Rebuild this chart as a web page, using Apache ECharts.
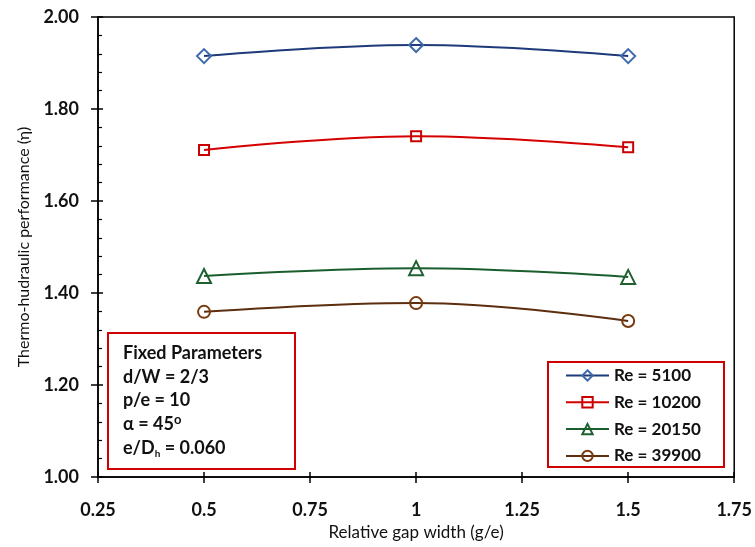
<!DOCTYPE html>
<html>
<head>
<meta charset="utf-8">
<script src="https://cdn.jsdelivr.net/npm/echarts@6/dist/echarts.min.js"></script>
<style>html,body{margin:0;padding:0;background:#fff}#c{width:755px;height:547px}</style>
</head>
<body>
<div id="c"></div>
<script>
var gapWidth = [0.5, 1.0, 1.5];
var re5100 = [1.915, 1.939, 1.915];
var re10200 = [1.711, 1.741, 1.717];
var re20150 = [1.437, 1.454, 1.435];
var re39900 = [1.359, 1.378, 1.339];
var seriesNames = ['Re = 5100', 'Re = 10200', 'Re = 20150', 'Re = 39900'];
var boxLines = ['Fixed Parameters', 'd/W = 2/3', 'p/e = 10', 'α = 45{sup|o}', 'e/D{sub|h} = 0.060'];

var FONT = 'Lato, "Noto Sans", "DejaVu Sans", sans-serif';

function pts(ys) { return gapWidth.map(function (x, i) { return [x, ys[i]]; }); }

function mkSeries(name, ys, sym, size, lineColor, markColor) {
  return {
    name: name, type: 'line', data: pts(ys), smooth: 0.4,
    xAxisIndex: 0, yAxisIndex: 0,
    symbol: sym, symbolSize: size, showSymbol: true,
    lineStyle: { color: lineColor, width: 2 },
    itemStyle: { color: 'rgba(255,255,255,0)', borderColor: markColor, borderWidth: 2 },
    emphasis: { disabled: true }, z: 3
  };
}

var chart = echarts.init(document.getElementById('c'), null, { renderer: 'canvas' });

var boxText = boxLines.map(function (t, i) {
  return {
    type: 'text', x: 123, y: 353 + i * 23.8, z: 6,
    style: {
      text: t, fill: '#111', font: 'bold 18px ' + FONT, verticalAlign: 'middle', lineHeight: 22,
      rich: {
        sup: { fontSize: 13, fontFamily: FONT, fontWeight: 'bold', verticalAlign: 'top', lineHeight: 10, fill: '#111' },
        sub: { fontSize: 10, fontFamily: FONT, fontWeight: 'bold', verticalAlign: 'bottom', lineHeight: 9, fill: '#111' }
      }
    }
  };
});

chart.setOption({
  animation: false,
  backgroundColor: '#fff',
  grid: { left: 98, right: 20, top: 17, bottom: 70, show: true, borderColor: '#000', borderWidth: 1.5, backgroundColor: 'transparent' },
  xAxis: [{
    type: 'value', min: 0.25, max: 1.75, interval: 0.25,
    axisLine: { show: true, onZero: false, lineStyle: { color: '#000', width: 1.5 } },
    axisTick: { show: true, inside: false, length: 6, lineStyle: { color: '#000', width: 1.5 } },
    axisLabel: { margin: 24, color: '#111', fontSize: 18, fontWeight: 'bold', fontFamily: FONT },
    splitLine: { show: false },
    name: 'Relative gap width (g/e)', nameLocation: 'middle', nameGap: 47,
    nameTextStyle: { color: '#111', fontSize: 17, fontFamily: FONT }
  }, {
    type: 'value', min: 0.25, max: 1.75, interval: 0.25, position: 'bottom',
    axisLine: { show: false },
    axisTick: { show: true, inside: true, length: 5, lineStyle: { color: '#000', width: 1.5 } },
    axisLabel: { show: false }, splitLine: { show: false }
  }],
  yAxis: [{
    type: 'value', min: 1, max: 2, interval: 0.2,
    axisLine: { show: true, onZero: false, lineStyle: { color: '#000', width: 1.5 } },
    axisTick: { show: true, inside: false, length: 7, lineStyle: { color: '#000', width: 1.5 } },
    axisLabel: { margin: 19, color: '#111', fontSize: 18, fontWeight: 'bold', fontFamily: FONT,
      formatter: function (v) { return v.toFixed(2); } },
    splitLine: { show: false },
    name: 'Thermo-hudraulic performance (η)', nameLocation: 'middle', nameGap: 66, nameRotate: 90,
    nameTextStyle: { color: '#111', fontSize: 16, fontFamily: FONT }
  }, {
    type: 'value', min: 1, max: 2, interval: 0.2, position: 'left',
    axisLine: { show: false },
    axisTick: { show: true, inside: true, length: 5, lineStyle: { color: '#000', width: 1.5 } },
    minorTick: { show: true, splitNumber: 5, length: 4, lineStyle: { color: '#000', width: 1.2 } },
    axisLabel: { show: false }, splitLine: { show: false }
  }],
  legend: {
    orient: 'vertical', left: 565, top: 367, z: 10, padding: 0,
    itemWidth: 43, itemHeight: 13, itemGap: 9.8,
    data: seriesNames,
    textStyle: { color: '#111', fontSize: 17, fontWeight: 'bold', fontFamily: FONT, lineHeight: 16 },
    selectedMode: false
  },
  graphic: [
    { type: 'rect', shape: { x: 108, y: 333, width: 187, height: 136 }, z: 5,
      style: { fill: '#fff', stroke: '#d00000', lineWidth: 2 } },
    { type: 'rect', shape: { x: 548, y: 362, width: 176, height: 105 }, z: 5,
      style: { fill: '#fff', stroke: '#d00000', lineWidth: 2 } }
  ].concat(boxText),
  series: [
    mkSeries(seriesNames[0], re5100, 'diamond', 14, '#1f3a7a', '#3d6aab'),
    mkSeries(seriesNames[1], re10200, 'rect', 10, '#d40000', '#c80000'),
    mkSeries(seriesNames[2], re20150, 'triangle', 14, '#1b5e2e', '#1f5f30'),
    mkSeries(seriesNames[3], re39900, 'circle', 12, '#5c2e0e', '#7a3b10')
  ]
});
</script>
</body>
</html>
